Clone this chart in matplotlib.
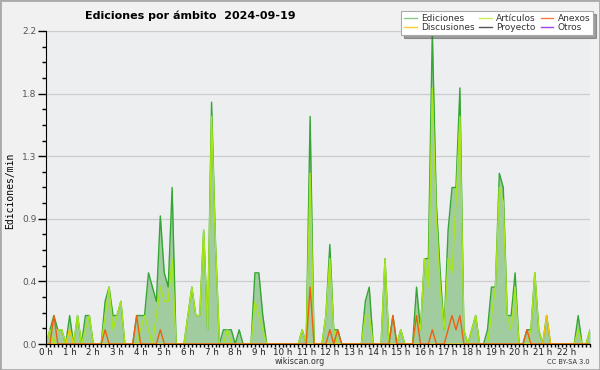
import matplotlib
matplotlib.use("Agg")
import matplotlib.pyplot as plt
from matplotlib.lines import Line2D
from matplotlib.patches import Rectangle
import numpy as np

# edits per minute, one value every 10 minutes from 00:00 to 23:00
ediciones = [
    0, 0.1, 0.2, 0.1, 0.1, 0,
    0.2, 0, 0.2, 0, 0.2, 0.2,
    0, 0, 0, 0.3, 0.4, 0.2,
    0.2, 0.3, 0, 0, 0, 0.2,
    0.2, 0.2, 0.5, 0.4, 0.3, 0.9,
    0.5, 0.4, 1.1, 0, 0, 0,
    0.2, 0.4, 0.2, 0.2, 0.8, 0.1,
    1.7, 0.7, 0, 0.1, 0.1, 0.1,
    0, 0.1, 0, 0, 0, 0.5,
    0.5, 0.2, 0, 0, 0, 0,
    0, 0, 0, 0, 0, 0.1,
    0, 1.6, 0, 0, 0, 0.2,
    0.7, 0.1, 0.1, 0, 0, 0,
    0, 0, 0, 0.3, 0.4, 0,
    0, 0, 0.6, 0, 0.2, 0,
    0.1, 0, 0, 0, 0.4, 0.1,
    0.6, 0.6, 2.2, 1.0, 0.5, 0.1,
    0.8, 1.1, 1.1, 1.8, 0.1, 0,
    0.1, 0.2, 0, 0, 0.1, 0.4,
    0.4, 1.2, 1.1, 0.2, 0.2, 0.5,
    0, 0, 0.1, 0.1, 0.5, 0.1,
    0, 0.2, 0, 0, 0, 0,
    0, 0, 0, 0.2, 0, 0,
    0.1,
]
articulos = [
    0, 0.1, 0, 0.1, 0.1, 0,
    0.1, 0, 0.2, 0, 0.1, 0.2,
    0, 0, 0, 0.2, 0.4, 0.1,
    0.2, 0.3, 0, 0, 0, 0,
    0.1, 0.2, 0.1, 0, 0.2, 0.4,
    0.3, 0.3, 0.6, 0, 0, 0,
    0.2, 0.4, 0.2, 0.2, 0.8, 0.1,
    1.6, 0.7, 0, 0, 0.1, 0,
    0, 0, 0, 0, 0, 0.3,
    0.2, 0.1, 0, 0, 0, 0,
    0, 0, 0, 0, 0, 0.1,
    0, 1.2, 0, 0, 0, 0.2,
    0.6, 0.1, 0, 0, 0, 0,
    0, 0, 0, 0.2, 0.2, 0,
    0, 0, 0.6, 0, 0, 0,
    0.1, 0, 0, 0, 0.2, 0.1,
    0.6, 0.4, 1.8, 0.9, 0.4, 0.1,
    0.6, 0.5, 1.0, 1.6, 0.1, 0,
    0.1, 0.2, 0, 0, 0, 0.2,
    0.4, 1.1, 1.0, 0.2, 0.1, 0.4,
    0, 0, 0, 0.1, 0.5, 0.1,
    0, 0, 0, 0, 0, 0,
    0, 0, 0, 0.1, 0, 0,
    0.1,
]
anexos_idx = [2, 15, 23, 29, 67, 72, 74, 88, 94, 98, 102, 103, 104, 105, 122]
anexos_val = [0.2, 0.1, 0.2, 0.1, 0.4, 0.1, 0.1, 0.2, 0.2, 0.1, 0.1, 0.2, 0.1, 0.2, 0.1]
discus_idx = [6, 127]
discus_val = [0.1, 0.2]

hour_labels = ["%d h" % h for h in range(23)]

n = len(ediciones)
hours = np.arange(n) / 6.0
anexos = np.zeros(n)
anexos[anexos_idx] = anexos_val
discusiones = np.zeros(n)
discusiones[discus_idx] = discus_val

fig = plt.figure(figsize=(6, 3.7), dpi=100, facecolor="#f1f1f1")
ax = fig.add_axes([46 / 600, 1 - 344 / 370, 544 / 600, 313 / 370])
ax.set_facecolor("#edeef0")

ax.fill_between(hours, ediciones, color="#a0cca0", lw=0)
ax.plot(hours, ediciones, color="#33a633", lw=1.0)
ax.plot(hours, articulos, color="#a6e61a", lw=1.0)
ax.plot(hours, discusiones, color="#f5c400", lw=1.0)
ax.plot(hours, anexos, color="#ee6011", lw=1.0)

ax.set_xlim(0, 23)
ax.set_ylim(0, 2.2)
yt = np.arange(0, 2.21, 0.44)
ax.set_yticks(yt)
ax.set_yticklabels(["%.1f" % v for v in yt])
ax.set_yticks(np.arange(0, 2.21, 0.11), minor=True)
ax.set_xticks(range(23))
ax.set_xticklabels(hour_labels)
ax.set_xticks(np.arange(0, 23.01, 1 / 6), minor=True)
ax.tick_params(axis="y", which="major", length=6, width=1, labelsize=6.5,
               labelcolor="#555555", pad=1)
ax.tick_params(axis="y", which="minor", length=3, width=1)
ax.tick_params(axis="x", which="both", length=2.5, width=1, labelsize=6.3,
               labelcolor="#222222", pad=0.3)
ax.yaxis.grid(True, color="#cccccc", lw=0.9)
ax.set_axisbelow(True)
for s in ["top", "right"]:
    ax.spines[s].set_visible(False)
ax.spines["left"].set_color("black")
ax.spines["bottom"].set_color("black")

fig.text(85 / 600, 1 - 16 / 370, "Ediciones por ámbito  2024-09-19",
         fontsize=8, fontweight="bold", va="center", ha="left")
fig.text(10 / 600, 0.484, "Ediciones/min", rotation=90, fontsize=7,
         family="DejaVu Sans Mono", va="center", ha="center")
fig.text(0.5, 1 - 362 / 370, "wikiscan.org", fontsize=5.8, ha="center",
         va="center", color="#333333")
fig.text(590 / 600, 1 - 362 / 370, "CC BY-SA 3.0", fontsize=4.8, ha="right",
         va="center", color="#333333")

handles = [
    Line2D([], [], color="#88cc88", lw=1),
    Line2D([], [], color="#ffcc33", lw=1),
    Line2D([], [], color="#ccee55", lw=1),
    Line2D([], [], color="#555555", lw=1),
    Line2D([], [], color="#ff7744", lw=1),
    Line2D([], [], color="#9944ee", lw=1),
]
names = ["Ediciones", "Discusiones", "Artículos", "Proyecto", "Anexos", "Otros"]
leg = fig.legend(handles, names, ncol=3, loc="upper right",
                 bbox_to_anchor=(593 / 600, 1 - 11 / 370), fontsize=6.5,
                 frameon=True, fancybox=False, shadow=True, borderpad=0.3,
                 labelspacing=0.05, handlelength=1.4, handletextpad=0.5,
                 columnspacing=0.5, borderaxespad=0)
leg.get_frame().set_edgecolor("#aaaaaa")
leg.get_frame().set_linewidth(0.8)
for t in leg.get_texts():
    t.set_color("#333333")

fig.patches.append(Rectangle((0, 0), 1, 1, transform=fig.transFigure,
                             fill=False, edgecolor="#aaaaaa", lw=2))

fig.savefig("out.png", dpi=100, facecolor=fig.get_facecolor())
